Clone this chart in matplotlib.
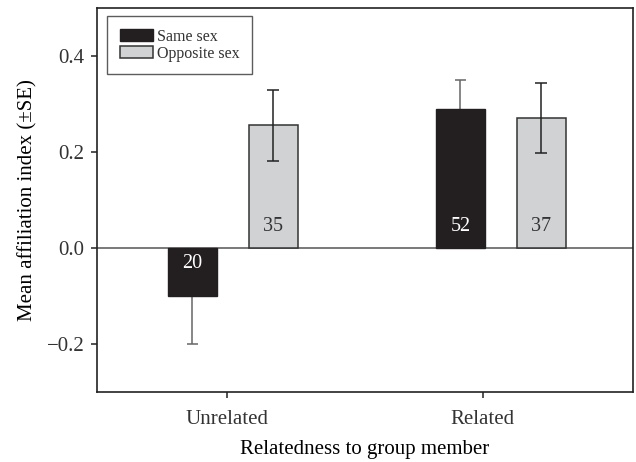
import matplotlib.pyplot as plt
import matplotlib as mpl
import numpy as np

mpl.rcParams.update({
    "font.family": "serif",
    "font.serif": ["Liberation Serif", "DejaVu Serif"],
    "font.size": 14,
    "axes.linewidth": 1.2,
    "axes.edgecolor": "#222222",
    "xtick.color": "#222222",
    "ytick.color": "#222222",
    "text.color": "#333333",
})

# ===== data =====
groups = ["Unrelated", "Related"]
series = ["Same sex", "Opposite sex"]
same_mean = [-0.10, 0.289]
same_se = [0.10, 0.062]
opp_mean = [0.256, 0.270]
opp_se = [0.074, 0.073]
same_n = [20, 52]
opp_n = [35, 37]
yticks = [-0.2, 0.0, 0.2, 0.4]

same_color = "#231f20"
opp_color = "#d1d2d4"

fig = plt.figure(figsize=(6.36, 4.62), dpi=100)
ax = fig.add_axes([97 / 636, 70 / 462, 536 / 636, 384 / 462])

x = np.arange(len(groups))
off = 0.151
w = 0.183
cap = 0.022

ax.axhline(0, color="#555555", lw=1.1, zorder=1)

# same-sex bars: error bars drawn outward only
for xi, m, s in zip(x - off, same_mean, same_se):
    end = m + s if m > 0 else m - s
    ax.vlines(xi, m, end, color="#666666", lw=1.1, zorder=2)
    ax.hlines(end, xi - cap, xi + cap, color="#666666", lw=1.1, zorder=2)
ax.bar(x - off, same_mean, width=w, color=same_color, edgecolor=same_color,
       label=series[0], zorder=3)

ax.bar(x + off, opp_mean, width=w, color=opp_color, edgecolor="#333333",
       linewidth=1.1, label=series[1], zorder=3)
ax.errorbar(x + off, opp_mean, yerr=opp_se, fmt="none", ecolor="#222222",
            elinewidth=1.1, capsize=4.3, capthick=1.1, zorder=4)

# sample sizes inside bars
for xi, m, n in zip(x - off, same_mean, same_n):
    yy = 0.045 if m > 0 else -0.033
    ax.text(xi, yy, str(n), color="white", ha="center", va="center",
            fontsize=14.5, zorder=5)
for xi, m, n in zip(x + off, opp_mean, opp_n):
    ax.text(xi, 0.045, str(n), color="#333333", ha="center", va="center",
            fontsize=14.5, zorder=5)

ax.set_xlim(-0.507, 1.493)
ax.set_ylim(-0.3, 0.5)
ax.set_yticks(yticks)
ax.set_yticklabels(["\u22120.2", "0.0", "0.2", "0.4"])
ax.set_xticks([-0.022, 0.933])
ax.set_xticklabels(groups)
ax.tick_params(axis="both", direction="out", length=4, width=1.1, labelsize=15,
               labelcolor="#333333")
ax.tick_params(axis="y", pad=5)
ax.tick_params(axis="x", pad=9)

ax.set_xlabel("Relatedness to group member", fontsize=15, labelpad=8)
ax.set_ylabel("Mean affiliation index (\u00b1SE)", fontsize=15, labelpad=7)

leg = ax.legend(loc="upper left", bbox_to_anchor=(0.0187, 0.979), fontsize=11.5,
                frameon=True, fancybox=False, edgecolor="#333333",
                handlelength=2.1, handleheight=0.75, handletextpad=0.2,
                borderpad=0.8, labelspacing=0.05, borderaxespad=0)
leg.get_frame().set_linewidth(1.0)

fig.savefig("out.png", dpi=100)
